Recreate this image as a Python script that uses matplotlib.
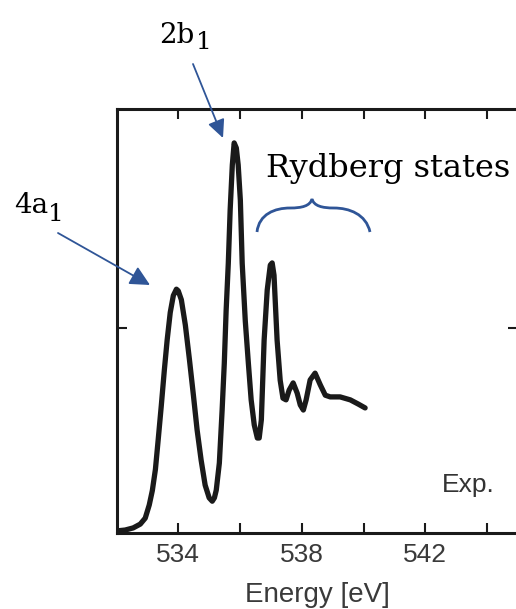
import matplotlib
matplotlib.use("Agg")
from matplotlib import pyplot as plt
from matplotlib.patches import FancyArrowPatch, PathPatch
from matplotlib.path import Path

# spectrum (eV, arb. units)
energy = [532.02, 532.28, 532.54, 532.77, 532.93, 533.06, 533.16, 533.26, 533.35,
          533.45, 533.55, 533.64, 533.74, 533.84, 533.94, 534.0, 534.1, 534.23,
          534.36, 534.49, 534.61, 534.74, 534.87, 535.0, 535.1, 535.17,
          535.23, 535.33, 535.42, 535.49, 535.55, 535.62, 535.68, 535.75, 535.81,
          535.88, 535.94, 536.01, 536.07, 536.17, 536.27, 536.36, 536.46, 536.56,
          536.62, 536.69, 536.78, 536.88, 536.98, 537.04, 537.1, 537.2, 537.3,
          537.39, 537.49, 537.59, 537.72, 537.85, 537.95, 538.05, 538.14, 538.27,
          538.43, 538.6, 538.76, 538.92, 539.24, 539.57, 539.83, 540.05]
intensity = [0.005, 0.007, 0.012, 0.021, 0.035, 0.066, 0.10, 0.15, 0.22,
             0.30, 0.385, 0.455, 0.52, 0.56, 0.575, 0.571, 0.55, 0.49,
             0.41, 0.325, 0.243, 0.172, 0.113, 0.083, 0.075, 0.083,
             0.101, 0.165, 0.29, 0.40, 0.525, 0.636, 0.762, 0.868, 0.92,
             0.908, 0.868, 0.785, 0.636, 0.50, 0.40, 0.314, 0.255, 0.224,
             0.224, 0.267, 0.455, 0.573, 0.632, 0.637, 0.608, 0.455, 0.36,
             0.318, 0.314, 0.337, 0.354, 0.33, 0.302, 0.29, 0.314, 0.361,
             0.377, 0.349, 0.325, 0.321, 0.321, 0.314, 0.304, 0.295]

major_ticks = [534, 538, 542]
minor_ticks = [536, 540, 544]
peak_labels = ["4a", "2b"]

W, H = 516, 609
fig = plt.figure(figsize=(W / 100, H / 100), dpi=100)
ax = fig.add_axes([116.5 / W, (H - 533) / H, 401.5 / W, 424 / H])

ax.plot(energy, intensity, color="#1a1a1a", lw=3.8, solid_capstyle="round")
ax.set_xlim(532, 545)
ax.set_ylim(0, 1)

ax.set_xticks(major_ticks)
ax.set_xticks(minor_ticks, minor=True)
ax.set_yticks([0.4835])
ax.set_yticklabels([])
for s in ax.spines.values():
    s.set_linewidth(2.2)
    s.set_color("#1a1a1a")
ax.tick_params(which="both", direction="in", length=7.2, width=1.5,
               top=True, right=True, color="#1a1a1a")
ax.tick_params(axis="x", labelsize=19, labelcolor="#3a3a3a", pad=7)
for lab in ax.get_xticklabels():
    lab.set_family("Liberation Sans")
ax.set_xlabel("Energy [eV]", fontsize=20, color="#3a3a3a",
              family="Liberation Sans", labelpad=11)

ax.text(0.81, 0.097, "Exp.", transform=ax.transAxes, fontsize=19,
        color="#333333", family="Liberation Sans")


def P(x, y):
    return x / W, 1 - y / H


blue = "#2f5597"
serif = "DejaVu Serif"

# peak labels with subscript 1
fig.text(*P(159, 43), peak_labels[1], fontsize=20, family=serif, va="baseline")
fig.text(*P(196, 49), "1", fontsize=18, family=serif, va="baseline")
fig.text(*P(14, 213), peak_labels[0], fontsize=20, family=serif, va="baseline")
fig.text(*P(48, 221), "1", fontsize=18, family=serif, va="baseline")
fig.text(*P(266, 177), "Rydberg states", fontsize=23, family=serif, va="baseline")

for a, b, hl, hw in [((193, 64), (223, 138), 11, 5.2), ((58, 233), (150, 285), 12, 6)]:
    arr = FancyArrowPatch(P(*a), P(*b), transform=fig.transFigure,
                          arrowstyle=f"-|>,head_length={hl},head_width={hw}",
                          color=blue, lw=1.3, shrinkA=0, shrinkB=0)
    fig.patches.append(arr)

# curly brace over the Rydberg region
brace = [(257, 232), (259, 214), (275, 208), (290, 208),
         (302, 208), (310, 206), (312, 199),
         (314, 206), (322, 208), (334, 208),
         (349, 208), (366, 214), (370, 232)]
codes = [Path.MOVETO] + [Path.CURVE4] * 12
path = Path([P(*p) for p in brace], codes)
fig.patches.append(PathPatch(path, transform=fig.transFigure, fill=False,
                             edgecolor=blue, lw=2))

plt.savefig("out.png", dpi=100)
